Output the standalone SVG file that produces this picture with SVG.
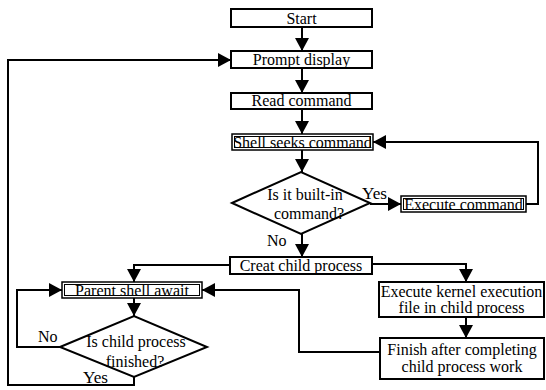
<svg xmlns="http://www.w3.org/2000/svg" width="546" height="390" viewBox="0 0 546 390">
<defs>
<marker id="ah" markerUnits="userSpaceOnUse" markerWidth="13" markerHeight="14" refX="13" refY="7" orient="auto">
<path d="M0,0 L13,7 L0,14 Z" fill="#000"/>
</marker>
<style>
.box{fill:#fff;stroke:#000;stroke-width:2}
.ob{fill:#fff;stroke:#000;stroke-width:1.5}
.ib{fill:none;stroke:#000;stroke-width:1}
.dia{fill:#fff;stroke:#000;stroke-width:2}
.ln{fill:none;stroke:#000;stroke-width:2;marker-end:url(#ah)}
.t{font-family:"Liberation Serif", "Times New Roman", serif;font-size:16px;fill:#000}
.c{text-anchor:middle}
</style>
</defs>
<rect width="546" height="390" fill="#fff"/>
<g id="connectors">
<path class="ln" d="M302,27 V51"/>
<path class="ln" d="M302,68 V93"/>
<path class="ln" d="M302,109 V134"/>
<path class="ln" d="M302,150 V172"/>
<path class="ln" d="M370,204 H401"/>
<path class="ln" d="M526,204 H538 V142 H373"/>
<path class="ln" d="M302,234 V257"/>
<path class="ln" d="M230,265 H134 V282"/>
<path class="ln" d="M372,264 H466 V282"/>
<path class="ln" d="M380,352 H299 V290 H202"/>
<path class="ln" d="M466,317 V338"/>
<path class="ln" d="M134,298 V316"/>
<path class="ln" d="M60,347 H17 V290 H62"/>
<path class="ln" d="M134,377 V385 H8 V60 H231"/>
<text class="t" x="362" y="199" textLength="25" lengthAdjust="spacingAndGlyphs">Yes</text>
<text class="t" x="267" y="246" textLength="19.6" lengthAdjust="spacingAndGlyphs">No</text>
<text class="t" x="38" y="342" textLength="19.6" lengthAdjust="spacingAndGlyphs">No</text>
<text class="t" x="83" y="383" textLength="25" lengthAdjust="spacingAndGlyphs">Yes</text>
</g>
<g id="start">
<rect class="box" x="231" y="9" width="141" height="18"/>
<text class="t c" x="301.5" y="24" textLength="30.2" lengthAdjust="spacingAndGlyphs">Start</text>
</g>
<g id="prompt">
<rect class="box" x="231" y="51" width="141" height="17"/>
<text class="t c" x="301.5" y="65" textLength="97.3" lengthAdjust="spacingAndGlyphs">Prompt display</text>
</g>
<g id="read">
<rect class="box" x="231" y="93" width="141" height="16"/>
<text class="t c" x="301.5" y="106" textLength="100" lengthAdjust="spacingAndGlyphs">Read command</text>
</g>
<g id="seek">
<rect class="ob" x="232" y="134" width="141" height="16"/>
<rect class="ib" x="234.5" y="136.5" width="136" height="11"/>
<text class="t c" x="302.5" y="147.5" textLength="138.7" lengthAdjust="spacingAndGlyphs">Shell seeks command</text>
</g>
<g id="builtin">
<polygon class="dia" points="232,203 301,172 370,203 301,234"/>
<text class="t c" x="305" y="200" textLength="75.6" lengthAdjust="spacingAndGlyphs">Is it built-in</text>
<text class="t c" x="309" y="219" textLength="70.2" lengthAdjust="spacingAndGlyphs">command?</text>
</g>
<g id="exec">
<rect class="ob" x="401" y="196" width="125" height="16"/>
<rect class="ib" x="403.5" y="198.5" width="120" height="11"/>
<text class="t c" x="463.5" y="209.5" textLength="118.6" lengthAdjust="spacingAndGlyphs">Execute command</text>
</g>
<g id="creat">
<rect class="box" x="230" y="257" width="142" height="17"/>
<text class="t c" x="301" y="271" textLength="122.6" lengthAdjust="spacingAndGlyphs">Creat child process</text>
</g>
<g id="parent">
<rect class="ob" x="62" y="282" width="140" height="16"/>
<rect class="ib" x="64.5" y="284.5" width="135" height="11"/>
<text class="t c" x="132" y="295.5" textLength="113.8" lengthAdjust="spacingAndGlyphs">Parent shell await</text>
</g>
<g id="kernel">
<rect class="box" x="379" y="282" width="165" height="35"/>
<text class="t c" x="461.5" y="297" textLength="161.7" lengthAdjust="spacingAndGlyphs">Execute kernel execution</text>
<text class="t c" x="461.5" y="313" textLength="125.8" lengthAdjust="spacingAndGlyphs">file in child process</text>
</g>
<g id="finish">
<rect class="box" x="380" y="338" width="164" height="41"/>
<text class="t c" x="462" y="355" textLength="149.3" lengthAdjust="spacingAndGlyphs">Finish after completing</text>
<text class="t c" x="462" y="372" textLength="120.9" lengthAdjust="spacingAndGlyphs">child process work</text>
</g>
<g id="childdone">
<polygon class="dia" points="60,347 134,316 207,347 134,377"/>
<text class="t c" x="136" y="347" textLength="99.5" lengthAdjust="spacingAndGlyphs">Is child process</text>
<text class="t c" x="135" y="367" textLength="58.7" lengthAdjust="spacingAndGlyphs">finished?</text>
</g>
</svg>
